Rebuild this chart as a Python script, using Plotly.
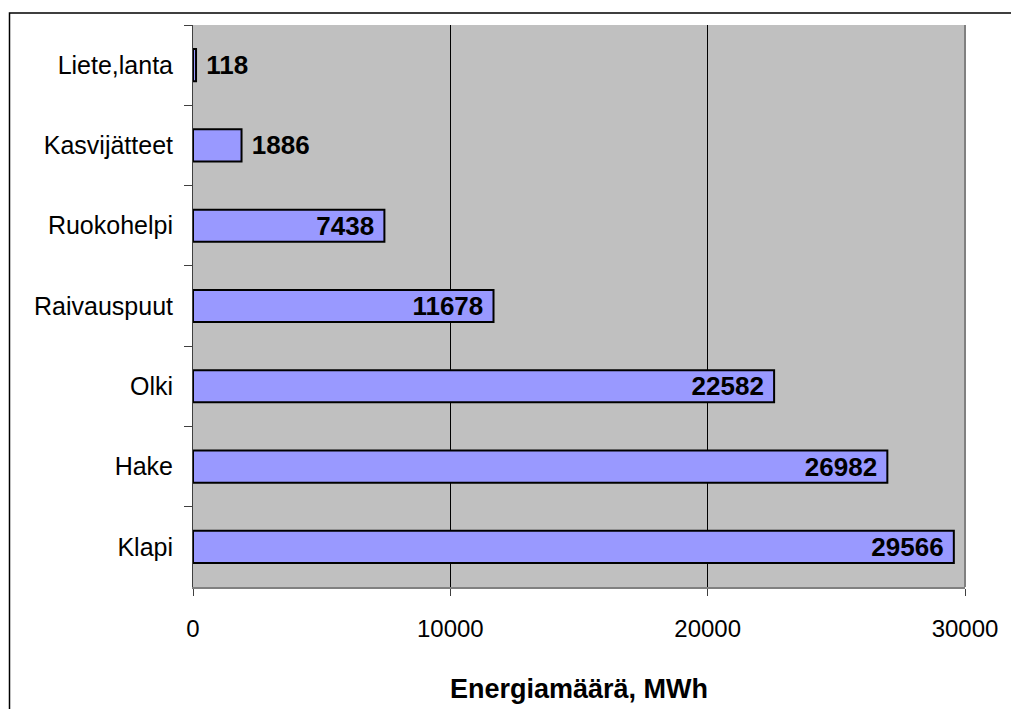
import plotly.graph_objects as go

# data, top-to-bottom as in the chart
categories = ["Liete,lanta", "Kasvijätteet", "Ruokohelpi", "Raivauspuut", "Olki", "Hake", "Klapi"]
energy_mwh = [118, 1886, 7438, 11678, 22582, 26982, 29566]
x_title = "Energiamäärä, MWh"

W, H = 1011, 709
L, R, T, B = 193, 965, 25, 587   # plot area in pixels

def px_x(px):
    return (px - L) / (R - L)

def px_y(py):
    return (B - py) / (B - T)

NB = "\u00a0"
text_pos = ["inside" if v > 5000 else "outside" for v in energy_mwh]
labels = [f"{v}{NB}" if v > 5000 else f"{NB}{v}" for v in energy_mwh]

fig = go.Figure()
fig.add_trace(go.Bar(
    y=categories,
    x=energy_mwh,
    orientation="h",
    width=0.4,
    marker=dict(color="#9999FF", line=dict(color="black", width=2)),
    text=labels,
    textposition=text_pos,
    insidetextanchor="end",
    textfont=dict(family="Liberation Sans, Arial", size=26, color="black", weight="bold"),
    constraintext="none",
    cliponaxis=False,
    hoverinfo="skip",
))

fig.update_layout(
    width=W, height=H,
    margin=dict(l=L, r=W - R, t=T, b=H - B),
    paper_bgcolor="white",
    plot_bgcolor="#C0C0C0",
    showlegend=False,
    font=dict(family="Liberation Sans, Arial", size=25, color="black"),
    xaxis=dict(
        range=[0, 30000],
        tickvals=[0, 10000, 20000, 30000],
        ticktext=["0", "10000", "20000", "30000"],
        tickfont=dict(size=24),
        showgrid=True, gridcolor="black", gridwidth=1,
        zeroline=False,
        showline=True, linecolor="#808080", linewidth=2,
        ticks="outside", ticklen=7, tickcolor="#404040",
        ticklabelstandoff=12,
        automargin=False,
        fixedrange=True,
    ),
    yaxis=dict(
        categoryorder="array", categoryarray=categories,
        autorange="reversed",
        showgrid=False,
        showline=True, linecolor="#404040", linewidth=1,
        ticks="outside", ticklen=8, tickcolor="#404040",
        tickson="boundaries",
        ticklabelstandoff=14,
        automargin=False,
        fixedrange=True,
    ),
    annotations=[
        dict(text=f"<b>{x_title}</b>", xref="paper", yref="paper",
             x=0.5, y=px_y(689), xanchor="center", yanchor="middle",
             showarrow=False, font=dict(size=27)),
    ],
    shapes=[
        # right edge of plot area
        dict(type="line", xref="paper", yref="paper", x0=1, x1=1, y0=0, y1=1,
             line=dict(color="#808080", width=2)),
        # outer chart border (runs past the window on the right and bottom)
        dict(type="rect", xref="paper", yref="paper",
             x0=px_x(9.5), x1=px_x(1030), y0=px_y(730), y1=px_y(13),
             line=dict(color="black", width=1.5), fillcolor="rgba(0,0,0,0)"),
    ],
)

# drop the default 8px page margin so the figure fills the window exactly
fig.write_html("out.html", config={"displayModeBar": False},
               post_script="document.body.style.margin='0';")
